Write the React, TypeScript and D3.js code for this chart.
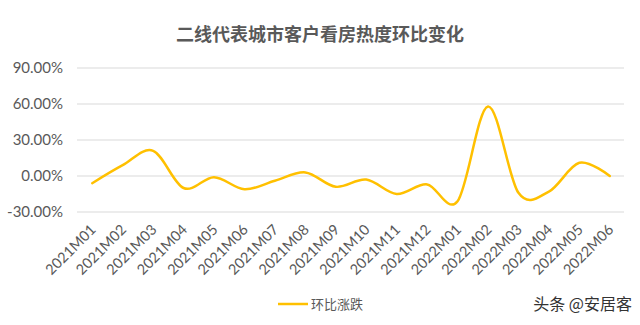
import React from "react";
import * as d3 from "d3";

const categories = [
  "2021M01", "2021M02", "2021M03", "2021M04", "2021M05", "2021M06",
  "2021M07", "2021M08", "2021M09", "2021M10", "2021M11", "2021M12",
  "2022M01", "2022M02", "2022M03", "2022M04", "2022M05", "2022M06",
];
const values = [-6, 9, 21, -10, -1, -11, -4, 3, -9, -3, -15, -7, -21, 58, -14, -13, 11, 0];
const yTicks = [-30, 0, 30, 60, 90];
const title = "二线代表城市客户看房热度环比变化";
const seriesName = "环比涨跌";
const watermark = "头条 @安居客";

const W = 640;
const H = 325;
const left = 77;
const right = 625;
const top = 68;
const bottom = 212;
const lineColor = "#FFC000";
const textColor = "#595959";
const font = "Lato, 'Noto Sans CJK SC', sans-serif";

export default function App() {
  const x = d3.scaleBand<string>().domain(categories).range([left, right]).padding(0);
  const y = d3.scaleLinear().domain([-30, 90]).range([bottom, top]);
  const cx = (c: string) => (x(c) as number) + x.bandwidth() / 2;
  const line = d3
    .line<number>()
    .x((_, i) => cx(categories[i]))
    .y((d) => y(d))
    .curve(d3.curveCardinal.tension(0));

  return (
    <svg
      width={W}
      height={H}
      style={{ position: "absolute", left: 0, top: 0, background: "#fff" }}
      fontFamily={font}
    >
      <rect x={0} y={0} width={W} height={H} fill="#fff" />
      <text
        x={320}
        y={41}
        textAnchor="middle"
        fontSize={18}
        fontWeight="bold"
        fill={textColor}
        fontFamily="'Noto Sans CJK SC', sans-serif"
      >
        {title}
      </text>
      {yTicks.map((t) => (
        <g key={t}>
          <line x1={left} x2={right - 1} y1={y(t)} y2={y(t)} stroke="#d9d9d9" strokeWidth={1} />
          <text
            x={63}
            y={y(t)}
            dy="0.35em"
            textAnchor="end"
            fontSize={15}
            fill={textColor}
          >
            {t.toFixed(2) + "%"}
          </text>
        </g>
      ))}
      {categories.map((c) => (
        <text
          key={c}
          transform={`translate(${cx(c) + 1},${227}) rotate(-45)`}
          textAnchor="end"
          dy="0.35em"
          fontSize={14.5}
          fill={textColor}
        >
          {c}
        </text>
      ))}
      <path d={line(values) || ""} fill="none" stroke={lineColor} strokeWidth={2.5} strokeLinecap="round" />
      <line x1={278} x2={308} y1={304} y2={304} stroke={lineColor} strokeWidth={2.5} />
      <text x={311} y={304} dy="0.35em" fontSize={13} fill={textColor} fontFamily="'Noto Sans CJK SC', sans-serif">
        {seriesName}
      </text>
      <text x={632} y={304} dy="0.35em" textAnchor="end" fontSize={16} fill="#333" fontFamily="'Noto Sans CJK SC', sans-serif">
        {watermark}
      </text>
    </svg>
  );
}
